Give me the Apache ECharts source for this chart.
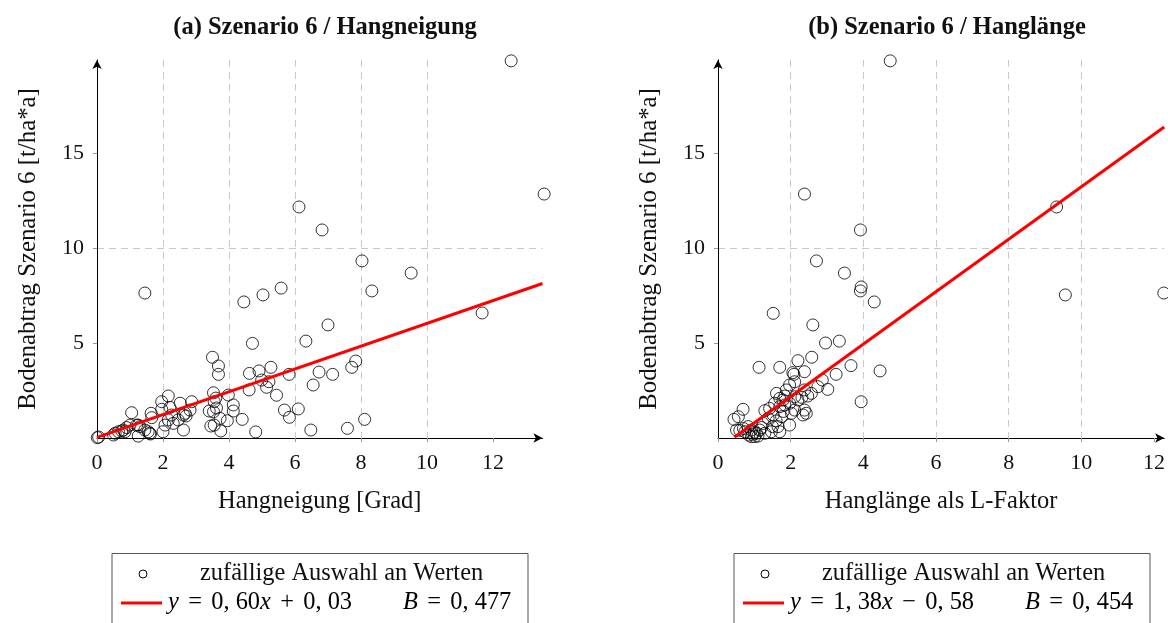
<!DOCTYPE html>
<html>
<head>
<meta charset="utf-8">
<title>Szenario 6</title>
<script src="https://cdn.jsdelivr.net/npm/echarts@6/dist/echarts.min.js"></script>
<style>
  html, body { margin: 0; padding: 0; background: #fff; }
  #chart { width: 1168px; height: 623px; }
</style>
</head>
<body>
<div id="chart"></div>
<script>
// Panel (a): slope angle [degree] vs. soil loss [t/ha*a]
const slopeX = [0.01,0.05,0.5,0.55,0.65,0.75,0.85,0.8,0.9,1.0,1.05,1.2,1.25,1.3,1.45,1.55,1.6,1.62,1.25,1.64,1.66,1.45,
  1.96,1.96,2.0,2.06,2.16,2.21,2.26,2.31,2.16,2.46,2.52,2.62,2.62,2.7,2.67,2.87,2.82,
  3.5,3.68,3.68,3.53,3.55,3.98,4.13,4.13,3.4,3.53,3.73,3.95,4.4,3.45,3.55,3.75,3.6,3.62,
  4.71,4.62,4.91,5.27,4.99,5.21,5.14,4.61,5.44,5.82,4.81,5.68,5.83,6.1,4.45,5.03,5.58,
  6.33,6.73,7.14,6.55,7.72,7.84,6.48,7.59,8.11,7.0,6.12,6.82,8.03,9.52,8.33,11.67,12.55,13.55];
const slopeY = [0.02,0.05,0.16,0.25,0.33,0.37,0.33,0.42,0.55,0.68,1.33,0.68,0.1,0.6,0.42,0.33,0.25,0.21,0.68,1.3,1.07,7.63,
  1.91,1.51,0.33,0.68,2.21,1.61,1.21,0.77,0.95,0.95,1.83,0.42,1.21,1.16,1.3,1.91,1.47,
  4.25,3.79,3.35,2.38,1.91,2.26,1.74,1.42,1.42,1.38,1.03,0.91,0.98,0.63,0.68,0.37,2.1,1.58,
  4.98,3.4,3.53,3.72,3.05,2.96,2.67,2.53,2.25,3.35,0.32,1.47,1.09,1.53,7.16,7.53,7.89,
  5.1,3.47,3.35,2.79,3.72,4.05,0.42,0.51,0.98,5.95,12.16,10.95,9.32,8.68,7.74,6.58,19.85,12.84];

// Panel (b): slope length as L factor vs. soil loss [t/ha*a]
const lengthX = [4.74,2.38,9.32,3.92,12.27,2.71,3.48,3.92,3.94,4.3,9.56,1.52,2.61,3.34,2.96,4.46,3.66,3.94,
  1.13,1.7,2.2,2.58,2.06,2.09,2.38,3.25,2.87,3.02,2.75,2.57,2.47,2.11,1.97,2.38,2.31,2.2,1.84,1.7,1.56,1.42,1.29,2.11,1.88,1.79,1.61,
  0.69,0.56,0.44,0.51,0.74,0.83,0.92,1.01,1.06,1.15,1.24,1.38,1.52,1.75,1.7,1.84,1.97,2.02,1.97,1.7,1.65,2.11,2.38,2.43,2.34,1.29,1.47,
  0.92,0.85,0.95,1.0,1.1,0.7,0.6,1.2,1.6,1.8,1.5];
const lengthY = [19.85,12.84,12.16,10.95,7.63,9.32,8.68,7.74,7.95,7.16,7.53,6.56,5.95,5.1,5.0,3.53,3.81,1.91,
  3.72,3.72,4.07,4.25,3.44,3.35,3.49,3.35,3.05,2.56,2.7,2.35,2.21,2.96,2.79,2.53,2.14,2.0,2.21,2.09,1.83,1.56,1.44,2.17,2.53,2.0,2.35,
  1.51,1.12,0.98,0.42,0.33,0.6,0.42,0.07,0.25,0.42,0.77,1.04,1.21,1.12,1.65,1.74,1.83,1.3,0.68,0.33,0.6,1.47,1.47,1.3,1.21,0.25,0.33,
  0.07,0.15,0.2,0.3,0.1,0.5,0.4,0.55,0.9,1.4,0.6];

// Regression lines y = slope * x + intercept, with coefficient of determination B
const fitA = { slope: 0.60, intercept: 0.03, b: 0.477, from: 0, to: 13.5 };
const fitB = { slope: 1.38, intercept: -0.58, b: 0.454, from: 0.45, to: 12.28 };

// Axis tick values
const xTicks = [0, 2, 4, 6, 8, 10, 12];
const yTicks = [5, 10, 15];

const titles = ['(a) Szenario 6 / Hangneigung', '(b) Szenario 6 / Hanglänge'];
const xNames = ['Hangneigung [Grad]', 'Hanglänge als L-Faktor'];
const yName = 'Bodenabtrag Szenario 6 [t/ha*a]';
const legendPoints = 'zufällige Auswahl an Werten';

const FONT = '"Liberation Serif", "Times New Roman", serif';

function pairs(xs, ys) { return xs.map((x, i) => [x, ys[i]]); }
function fitLine(f) {
  return [[f.from, f.slope * f.from + f.intercept], [f.to, f.slope * f.to + f.intercept]];
}
function num(v, d) { return v.toFixed(d).replace('.', ', '); }

function xAxis(idx, max, name) {
  return {
    type: 'value', gridIndex: idx, min: 0, max: max, interval: 2,
    name: name, nameLocation: 'middle', nameGap: 51,
    nameTextStyle: { fontFamily: FONT, fontSize: 24.5, color: '#111' },
    axisLine: { show: true, onZero: false, symbol: ['none', 'arrow'], symbolSize: [7, 9],
      lineStyle: { color: '#000', width: 1 } },
    axisTick: { show: true, length: 4, customValues: xTicks, lineStyle: { color: '#999' } },
    axisLabel: { customValues: xTicks, margin: 14, fontFamily: FONT, fontSize: 22, color: '#111' },
    splitLine: { show: true, showMinLine: false, showMaxLine: false,
      lineStyle: { color: '#c8c8c8', type: [7, 5], width: 1 } }
  };
}
function yAxis(idx) {
  return {
    type: 'value', gridIndex: idx, min: 0, max: 19.9, interval: 5,
    name: yName, nameLocation: 'middle', nameGap: 56, nameRotate: 90,
    nameTextStyle: { fontFamily: FONT, fontSize: 24.8, color: '#111' },
    axisLine: { show: true, onZero: false, symbol: ['none', 'arrow'], symbolSize: [7, 9],
      lineStyle: { color: '#000', width: 1 } },
    axisTick: { show: true, length: 4, customValues: yTicks, lineStyle: { color: '#999' } },
    axisLabel: { customValues: yTicks, margin: 13, fontFamily: FONT, fontSize: 22, color: '#111' },
    splitLine: { show: true, showMinLine: false, showMaxLine: false,
      lineStyle: { color: '#c8c8c8', type: [7, 5], width: 1 } }
  };
}
function scatter(idx, data) {
  return {
    type: 'scatter', xAxisIndex: idx, yAxisIndex: idx, data: data,
    symbol: 'circle', symbolSize: 12, silent: true, clip: false, z: 2,
    itemStyle: { color: 'rgba(0,0,0,0)', borderColor: '#000', borderWidth: 1 }
  };
}
function line(idx, data) {
  return {
    type: 'line', xAxisIndex: idx, yAxisIndex: idx, data: data,
    showSymbol: false, silent: true, z: 3,
    lineStyle: { color: '#ff0000', width: 3 }
  };
}

// Math-style text: italic variables, wider operators
const mathRich = {
  m: { fontFamily: FONT, fontSize: 24.4, color: '#111' },
  o: { fontFamily: FONT, fontSize: 24.4, color: '#111', padding: [0, 6] },
  i: { fontFamily: FONT, fontSize: 24.4, fontStyle: 'italic', color: '#111' }
};
function legendBox(x, f) {
  const op = f.intercept < 0 ? '−' : '+';
  const formula = '{i|y} {o|=} {m|' + num(f.slope, 2) + '}{i|x} {o|' + op + '} {m|' +
    num(Math.abs(f.intercept), 2) + '}';
  const bText = '{i|B} {o|=} {m|' + num(f.b, 3) + '}';
  return [
    { type: 'rect', shape: { x: x, y: 553.5, width: 416, height: 90 },
      style: { fill: '#fff', stroke: '#555', lineWidth: 1 }, z: 10 },
    { type: 'circle', shape: { cx: x + 31, cy: 574, r: 4 },
      style: { fill: 'none', stroke: '#000', lineWidth: 1 }, z: 11 },
    { type: 'text', x: x + 88, y: 574, z: 11,
      style: { text: legendPoints, font: '24.4px ' + FONT, fill: '#111', verticalAlign: 'middle' } },
    { type: 'line', shape: { x1: x + 9, y1: 603, x2: x + 50, y2: 603 },
      style: { stroke: '#ff0000', lineWidth: 3 }, z: 11 },
    { type: 'text', x: x + 56, y: 603, z: 11,
      style: { text: formula, rich: mathRich, verticalAlign: 'middle' } },
    { type: 'text', x: x + 291, y: 603, z: 11,
      style: { text: bText, rich: mathRich, verticalAlign: 'middle' } }
  ];
}

const chart = echarts.init(document.getElementById('chart'), null, { renderer: 'canvas' });
chart.setOption({
  animation: false,
  backgroundColor: '#fff',
  title: [
    { text: titles[0], left: 320, top: 10, textAlign: 'center',
      textStyle: { fontFamily: FONT, fontSize: 24.5, fontWeight: 'bold', color: '#111' } },
    { text: titles[1], left: 942, top: 10, textAlign: 'center',
      textStyle: { fontFamily: FONT, fontSize: 24.5, fontWeight: 'bold', color: '#111' } }
  ],
  grid: [
    { left: 97, top: 59.9, width: 445.5, height: 378.1, containLabel: false },
    { left: 718, top: 59.9, width: 448, height: 378.1, containLabel: false }
  ],
  xAxis: [xAxis(0, fitA.to, xNames[0]), xAxis(1, fitB.to, xNames[1])],
  yAxis: [yAxis(0), yAxis(1)],
  series: [
    scatter(0, pairs(slopeX, slopeY)),
    line(0, fitLine(fitA)),
    scatter(1, pairs(lengthX, lengthY)),
    line(1, fitLine(fitB))
  ],
  graphic: [
    ...legendBox(112, fitA),
    ...legendBox(734, fitB)
  ]
});
</script>
</body>
</html>
